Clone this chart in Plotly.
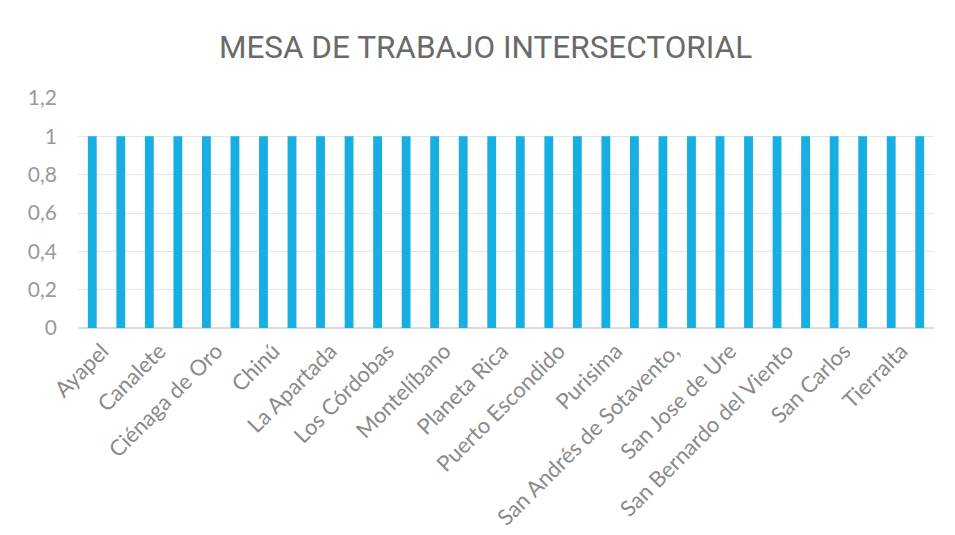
import plotly.graph_objects as go

municipios = [
    "Ayapel", "Buenavista", "Canalete", "Cereté", "Ciénaga de Oro", "Chimá",
    "Chinú", "Cotorra", "La Apartada", "Lorica", "Los Córdobas", "Momil",
    "Montelíbano", "Moñitos", "Planeta Rica", "Pueblo Nuevo", "Puerto Escondido",
    "Puerto Libertador", "Purisima", "Sahagún", "San Andrés de Sotavento,",
    "San Antero", "San Jose de Ure", "Montería", "San Bernardo del Viento",
    "San Pelayo", "San Carlos", "Tuchín", "Tierralta", "Valencia",
]
valores = [1] * 30
titulo = "MESA DE TRABAJO INTERSECTORIAL"
y_ticks = [0, 0.2, 0.4, 0.6, 0.8, 1, 1.2]

shown = municipios[::2]

fig = go.Figure(go.Bar(
    x=municipios, y=valores,
    marker=dict(color="#17AEE2", line=dict(width=0)),
    width=0.31,
))

fig.update_layout(
    width=955, height=535,
    margin=dict(l=70, r=29, t=90, b=215, autoexpand=False),
    paper_bgcolor="white", plot_bgcolor="white",
    separators=",.",
    showlegend=False,
    font=dict(family="Lato, sans-serif", color="#8a8a8a", size=20),
    title=dict(text=titulo, x=0.5, xanchor="center", y=0.927, yanchor="middle",
               font=dict(size=31.5, color="#6a6a6a", family="Roboto, sans-serif")),
)
fig.update_xaxes(
    tickmode="array", tickvals=shown, ticktext=shown,
    tickangle=-45, showgrid=False, showline=False, ticks="",
    tickfont=dict(size=22, color="#8a8a8a"), automargin=False,
    ticklabelshift=10, ticklabelstandoff=5,
)
fig.update_yaxes(
    range=[0, 1.2], tickvals=y_ticks, showgrid=True, gridcolor="#e6e6e6",
    gridwidth=1, zeroline=True, zerolinecolor="#dcdcdc",
    tickfont=dict(size=21, color="#9a9a9a"), ticklabelstandoff=20,
    automargin=False,
)

fig.write_html("out.html")
